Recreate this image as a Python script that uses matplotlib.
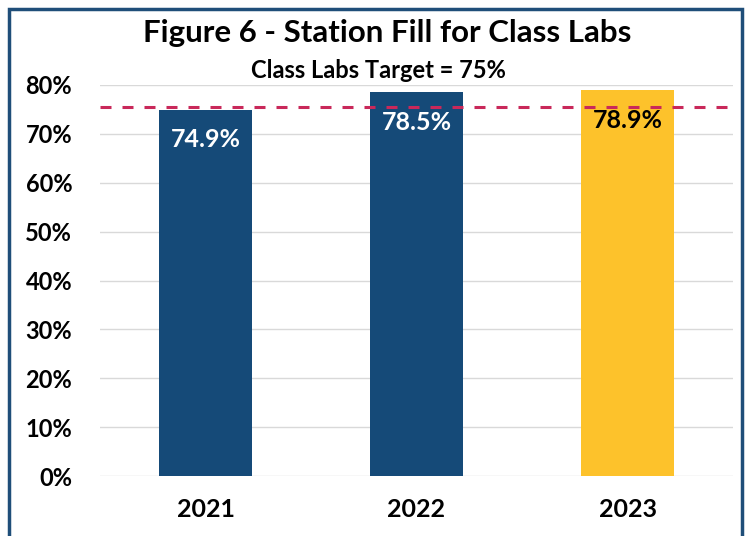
import matplotlib.pyplot as plt
from matplotlib.patches import Rectangle
from matplotlib.ticker import PercentFormatter

years = ["2021", "2022", "2023"]
fill = [74.9, 78.5, 78.9]
bar_colors = ["#154a78", "#154a78", "#fdc22b"]
label_colors = ["white", "white", "black"]
target = 75
y_ticks = [0, 10, 20, 30, 40, 50, 60, 70, 80]

plt.rcParams['font.family'] = ['Lato', 'DejaVu Sans']

fig = plt.figure(figsize=(7.49, 5.36), dpi=100)
ax = fig.add_axes([100 / 749, 60 / 536, 633 / 749, 391 / 536])

x = range(len(years))
ax.bar(x, fill, width=0.445, color=bar_colors, zorder=2)

# value labels inside top of bars
for i, v in enumerate(fill):
    ax.text(i, v - 6.1, f"{v}%", ha="center", va="center",
            fontsize=18, fontweight="bold", color=label_colors[i], zorder=3)

ax.axhline(target + 0.4, color="#c9285a", linestyle=(0, (3.6, 3.6)), linewidth=2.2, zorder=4)

ax.set_xlim(-0.5, 2.5)
ax.set_ylim(0, 80)
ax.set_yticks(y_ticks)
ax.yaxis.set_major_formatter(PercentFormatter(decimals=0))
ax.set_xticks(list(x))
ax.set_xticklabels(years)
ax.tick_params(axis="y", length=0, pad=20, labelsize=17)
ax.tick_params(axis="x", length=0, pad=16, labelsize=18)
for lab in ax.get_yticklabels() + ax.get_xticklabels():
    lab.set_fontweight("bold")

ax.grid(axis="y", color="#d9d9d9", linewidth=1, zorder=0)
for s in ax.spines.values():
    s.set_visible(False)

fig.text(387 / 749, 1 - 33 / 536, "Figure 6 - Station Fill for Class Labs",
         ha="center", va="center", fontsize=22.5, fontweight="bold")
fig.text(378 / 749, 1 - 70 / 536, "Class Labs Target = 75%",
         ha="center", va="center", fontsize=17, fontweight="bold")

# outer frame, bottom edge runs off the picture
fig.patches.append(Rectangle((9 / 749, -0.05), 733 / 749, 1.05 - 9 / 536,
                             transform=fig.transFigure, fill=False,
                             edgecolor="#1f4e79", linewidth=2.5))

fig.savefig("out.png", dpi=100)
